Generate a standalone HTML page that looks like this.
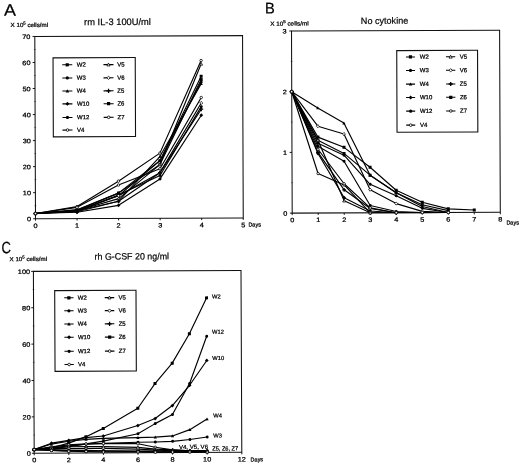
<!DOCTYPE html>
<html><head><meta charset="utf-8"><title>Figure</title>
<style>
html,body{margin:0;padding:0;background:#fff;}
body{width:520px;height:464px;overflow:hidden;}
svg{display:block;font-family:"Liberation Sans", sans-serif;fill:#000;filter:blur(0.35px);}
</style></head><body>
<svg width="520" height="464" viewBox="0 0 520 464">
<rect width="520" height="464" fill="#fff"/>
<g transform="rotate(-0.22 139 127.3)">
<text x="4.50" y="15.30" font-size="16.5" text-anchor="start" font-weight="normal" textLength="12" lengthAdjust="spacingAndGlyphs" stroke="#000" stroke-width="0.2">A</text>
<text x="11.00" y="26.60" font-size="5.9" text-anchor="start" font-weight="normal" textLength="37.5" lengthAdjust="spacingAndGlyphs" stroke="#000" stroke-width="0.24">X 10<tspan dy="-2.6" font-size="4.1">5</tspan><tspan dy="2.6"> cells/ml</tspan></text>
<text x="84.50" y="25.00" font-size="9.4" text-anchor="start" font-weight="normal" textLength="66.8" lengthAdjust="spacingAndGlyphs" stroke="#000" stroke-width="0.2">rm IL-3 100U/ml</text>
<rect x="35.15" y="36.05" width="207.75" height="182.25" fill="#fff" stroke="#111" stroke-width="1.05"/>
<path d="M32.85,218.30 L35.15,218.30" stroke="#000" stroke-width="0.9"/>
<text x="30.80" y="220.90" font-size="6.4" text-anchor="end" font-weight="normal" textLength="4.1" lengthAdjust="spacingAndGlyphs" stroke="#000" stroke-width="0.24">0</text>
<path d="M32.85,192.26 L35.15,192.26" stroke="#000" stroke-width="0.9"/>
<text x="30.80" y="194.86" font-size="6.4" text-anchor="end" font-weight="normal" textLength="8.2" lengthAdjust="spacingAndGlyphs" stroke="#000" stroke-width="0.24">10</text>
<path d="M32.85,166.23 L35.15,166.23" stroke="#000" stroke-width="0.9"/>
<text x="30.80" y="168.83" font-size="6.4" text-anchor="end" font-weight="normal" textLength="8.2" lengthAdjust="spacingAndGlyphs" stroke="#000" stroke-width="0.24">20</text>
<path d="M32.85,140.19 L35.15,140.19" stroke="#000" stroke-width="0.9"/>
<text x="30.80" y="142.79" font-size="6.4" text-anchor="end" font-weight="normal" textLength="8.2" lengthAdjust="spacingAndGlyphs" stroke="#000" stroke-width="0.24">30</text>
<path d="M32.85,114.16 L35.15,114.16" stroke="#000" stroke-width="0.9"/>
<text x="30.80" y="116.76" font-size="6.4" text-anchor="end" font-weight="normal" textLength="8.2" lengthAdjust="spacingAndGlyphs" stroke="#000" stroke-width="0.24">40</text>
<path d="M32.85,88.12 L35.15,88.12" stroke="#000" stroke-width="0.9"/>
<text x="30.80" y="90.72" font-size="6.4" text-anchor="end" font-weight="normal" textLength="8.2" lengthAdjust="spacingAndGlyphs" stroke="#000" stroke-width="0.24">50</text>
<path d="M32.85,62.09 L35.15,62.09" stroke="#000" stroke-width="0.9"/>
<text x="30.80" y="64.69" font-size="6.4" text-anchor="end" font-weight="normal" textLength="8.2" lengthAdjust="spacingAndGlyphs" stroke="#000" stroke-width="0.24">60</text>
<path d="M32.85,36.05 L35.15,36.05" stroke="#000" stroke-width="0.9"/>
<text x="30.80" y="38.65" font-size="6.4" text-anchor="end" font-weight="normal" textLength="8.2" lengthAdjust="spacingAndGlyphs" stroke="#000" stroke-width="0.24">70</text>
<path d="M34.15,205.28 L36.15,205.28" stroke="#000" stroke-width="0.6" opacity="0.6"/>
<path d="M34.15,179.25 L36.15,179.25" stroke="#000" stroke-width="0.6" opacity="0.6"/>
<path d="M34.15,153.21 L36.15,153.21" stroke="#000" stroke-width="0.6" opacity="0.6"/>
<path d="M34.15,127.18 L36.15,127.18" stroke="#000" stroke-width="0.6" opacity="0.6"/>
<path d="M34.15,101.14 L36.15,101.14" stroke="#000" stroke-width="0.6" opacity="0.6"/>
<path d="M34.15,75.10 L36.15,75.10" stroke="#000" stroke-width="0.6" opacity="0.6"/>
<path d="M34.15,49.07 L36.15,49.07" stroke="#000" stroke-width="0.6" opacity="0.6"/>
<path d="M35.15,218.30 L35.15,220.30" stroke="#000" stroke-width="0.9"/>
<text x="35.15" y="227.60" font-size="6.4" text-anchor="middle" font-weight="normal" textLength="4.1" lengthAdjust="spacingAndGlyphs" stroke="#000" stroke-width="0.24">0</text>
<path d="M76.70,218.30 L76.70,220.30" stroke="#000" stroke-width="0.9"/>
<text x="76.70" y="227.60" font-size="6.4" text-anchor="middle" font-weight="normal" textLength="4.1" lengthAdjust="spacingAndGlyphs" stroke="#000" stroke-width="0.24">1</text>
<path d="M118.25,218.30 L118.25,220.30" stroke="#000" stroke-width="0.9"/>
<text x="118.25" y="227.60" font-size="6.4" text-anchor="middle" font-weight="normal" textLength="4.1" lengthAdjust="spacingAndGlyphs" stroke="#000" stroke-width="0.24">2</text>
<path d="M159.80,218.30 L159.80,220.30" stroke="#000" stroke-width="0.9"/>
<text x="159.80" y="227.60" font-size="6.4" text-anchor="middle" font-weight="normal" textLength="4.1" lengthAdjust="spacingAndGlyphs" stroke="#000" stroke-width="0.24">3</text>
<path d="M201.35,218.30 L201.35,220.30" stroke="#000" stroke-width="0.9"/>
<text x="201.35" y="227.60" font-size="6.4" text-anchor="middle" font-weight="normal" textLength="4.1" lengthAdjust="spacingAndGlyphs" stroke="#000" stroke-width="0.24">4</text>
<path d="M242.90,218.30 L242.90,220.30" stroke="#000" stroke-width="0.9"/>
<text x="242.90" y="227.60" font-size="6.4" text-anchor="middle" font-weight="normal" textLength="4.1" lengthAdjust="spacingAndGlyphs" stroke="#000" stroke-width="0.24">5</text>
<text x="248.00" y="226.90" font-size="5.7" text-anchor="start" font-weight="normal" textLength="12.5" lengthAdjust="spacingAndGlyphs" stroke="#000" stroke-width="0.24">Days</text>
<path d="M35.15,213.09 L76.70,209.97 L118.25,193.05 L159.80,164.67 L201.35,79.79" stroke="#000" stroke-width="1.15" fill="none" stroke-linejoin="round"/>
<path d="M35.15,213.09 L76.70,211.01 L118.25,194.87 L159.80,175.60 L201.35,106.87" stroke="#000" stroke-width="1.15" fill="none" stroke-linejoin="round"/>
<path d="M35.15,213.09 L76.70,210.49 L118.25,201.12 L159.80,156.60 L201.35,83.96" stroke="#000" stroke-width="1.15" fill="none" stroke-linejoin="round"/>
<path d="M35.15,213.09 L76.70,212.05 L118.25,205.28 L159.80,178.99 L201.35,115.46" stroke="#000" stroke-width="1.15" fill="none" stroke-linejoin="round"/>
<path d="M35.15,213.09 L76.70,210.23 L118.25,195.65 L159.80,160.76 L201.35,82.13" stroke="#000" stroke-width="1.15" fill="none" stroke-linejoin="round"/>
<path d="M35.15,213.09 L76.70,206.32 L118.25,181.07 L159.80,153.21 L201.35,60.78" stroke="#000" stroke-width="1.15" fill="none" stroke-linejoin="round"/>
<path d="M35.15,213.09 L76.70,210.49 L118.25,198.51 L159.80,164.67 L201.35,64.17" stroke="#000" stroke-width="1.15" fill="none" stroke-linejoin="round"/>
<path d="M35.15,213.09 L76.70,210.75 L118.25,195.65 L159.80,172.74 L201.35,103.22" stroke="#000" stroke-width="1.15" fill="none" stroke-linejoin="round"/>
<path d="M35.15,213.09 L76.70,211.53 L118.25,201.12 L159.80,172.74 L201.35,109.47" stroke="#000" stroke-width="1.15" fill="none" stroke-linejoin="round"/>
<path d="M35.15,213.09 L76.70,209.45 L118.25,193.05 L159.80,160.76 L201.35,76.41" stroke="#000" stroke-width="1.15" fill="none" stroke-linejoin="round"/>
<path d="M35.15,213.09 L76.70,207.10 L118.25,184.97 L159.80,168.83 L201.35,97.75" stroke="#000" stroke-width="1.15" fill="none" stroke-linejoin="round"/>
<rect x="33.65" y="211.59" width="3.00" height="3.00" fill="#000"/>
<rect x="75.20" y="208.47" width="3.00" height="3.00" fill="#000"/>
<rect x="116.75" y="191.55" width="3.00" height="3.00" fill="#000"/>
<rect x="158.30" y="163.17" width="3.00" height="3.00" fill="#000"/>
<rect x="199.85" y="78.29" width="3.00" height="3.00" fill="#000"/>
<circle cx="35.15" cy="213.09" r="1.50" fill="#000"/>
<circle cx="76.70" cy="211.01" r="1.50" fill="#000"/>
<circle cx="118.25" cy="194.87" r="1.50" fill="#000"/>
<circle cx="159.80" cy="175.60" r="1.50" fill="#000"/>
<circle cx="201.35" cy="106.87" r="1.50" fill="#000"/>
<path d="M35.15,211.44 L36.80,214.44 L33.50,214.44Z" fill="#000"/>
<path d="M76.70,208.84 L78.35,211.84 L75.05,211.84Z" fill="#000"/>
<path d="M118.25,199.47 L119.90,202.47 L116.60,202.47Z" fill="#000"/>
<path d="M159.80,154.95 L161.45,157.95 L158.15,157.95Z" fill="#000"/>
<path d="M201.35,82.31 L203.00,85.31 L199.70,85.31Z" fill="#000"/>
<path d="M35.15,211.22 L37.02,213.09 L35.15,214.97 L33.27,213.09Z" fill="#000"/>
<path d="M76.70,210.18 L78.57,212.05 L76.70,213.93 L74.82,212.05Z" fill="#000"/>
<path d="M118.25,203.41 L120.12,205.28 L118.25,207.16 L116.38,205.28Z" fill="#000"/>
<path d="M159.80,177.11 L161.67,178.99 L159.80,180.86 L157.92,178.99Z" fill="#000"/>
<path d="M201.35,113.58 L203.22,115.46 L201.35,117.33 L199.47,115.46Z" fill="#000"/>
<circle cx="35.15" cy="213.09" r="1.50" fill="#000"/>
<circle cx="76.70" cy="210.23" r="1.50" fill="#000"/>
<circle cx="118.25" cy="195.65" r="1.50" fill="#000"/>
<circle cx="159.80" cy="160.76" r="1.50" fill="#000"/>
<circle cx="201.35" cy="82.13" r="1.50" fill="#000"/>
<circle cx="35.15" cy="213.09" r="1.23" fill="#fff" stroke="#000" stroke-width="0.8"/>
<circle cx="76.70" cy="206.32" r="1.23" fill="#fff" stroke="#000" stroke-width="0.8"/>
<circle cx="118.25" cy="181.07" r="1.23" fill="#fff" stroke="#000" stroke-width="0.8"/>
<circle cx="159.80" cy="153.21" r="1.23" fill="#fff" stroke="#000" stroke-width="0.8"/>
<circle cx="201.35" cy="60.78" r="1.23" fill="#fff" stroke="#000" stroke-width="0.8"/>
<path d="M35.15,211.62 L36.63,214.32 L33.67,214.32Z" fill="#fff" stroke="#000" stroke-width="0.8"/>
<path d="M76.70,209.01 L78.18,211.72 L75.22,211.72Z" fill="#fff" stroke="#000" stroke-width="0.8"/>
<path d="M118.25,197.04 L119.73,199.74 L116.77,199.74Z" fill="#fff" stroke="#000" stroke-width="0.8"/>
<path d="M159.80,163.19 L161.28,165.90 L158.32,165.90Z" fill="#fff" stroke="#000" stroke-width="0.8"/>
<path d="M201.35,62.69 L202.83,65.40 L199.87,65.40Z" fill="#fff" stroke="#000" stroke-width="0.8"/>
<path d="M35.15,211.56 L36.69,213.09 L35.15,214.63 L33.61,213.09Z" fill="#fff" stroke="#000" stroke-width="0.8"/>
<path d="M76.70,209.21 L78.24,210.75 L76.70,212.29 L75.16,210.75Z" fill="#fff" stroke="#000" stroke-width="0.8"/>
<path d="M118.25,194.11 L119.79,195.65 L118.25,197.19 L116.71,195.65Z" fill="#fff" stroke="#000" stroke-width="0.8"/>
<path d="M159.80,171.20 L161.34,172.74 L159.80,174.28 L158.26,172.74Z" fill="#fff" stroke="#000" stroke-width="0.8"/>
<path d="M201.35,101.68 L202.89,103.22 L201.35,104.76 L199.81,103.22Z" fill="#fff" stroke="#000" stroke-width="0.8"/>
<path d="M33.20,213.09 L37.10,213.09 M35.15,211.14 L35.15,215.04" stroke="#000" stroke-width="1.3" fill="none"/>
<path d="M74.75,211.53 L78.65,211.53 M76.70,209.58 L76.70,213.48" stroke="#000" stroke-width="1.3" fill="none"/>
<path d="M116.30,201.12 L120.20,201.12 M118.25,199.17 L118.25,203.07" stroke="#000" stroke-width="1.3" fill="none"/>
<path d="M157.85,172.74 L161.75,172.74 M159.80,170.79 L159.80,174.69" stroke="#000" stroke-width="1.3" fill="none"/>
<path d="M199.40,109.47 L203.30,109.47 M201.35,107.52 L201.35,111.42" stroke="#000" stroke-width="1.3" fill="none"/>
<rect x="33.65" y="211.59" width="3.00" height="3.00" fill="#000"/>
<rect x="75.20" y="207.95" width="3.00" height="3.00" fill="#000"/>
<rect x="116.75" y="191.55" width="3.00" height="3.00" fill="#000"/>
<rect x="158.30" y="159.26" width="3.00" height="3.00" fill="#000"/>
<rect x="199.85" y="74.91" width="3.00" height="3.00" fill="#000"/>
<circle cx="35.15" cy="213.09" r="1.23" fill="#fff" stroke="#000" stroke-width="0.8"/>
<circle cx="76.70" cy="207.10" r="1.23" fill="#fff" stroke="#000" stroke-width="0.8"/>
<circle cx="118.25" cy="184.97" r="1.23" fill="#fff" stroke="#000" stroke-width="0.8"/>
<circle cx="159.80" cy="168.83" r="1.23" fill="#fff" stroke="#000" stroke-width="0.8"/>
<circle cx="201.35" cy="97.75" r="1.23" fill="#fff" stroke="#000" stroke-width="0.8"/>
<rect x="53.3" y="57.5" width="82.2" height="79.0" fill="#fff" stroke="#111" stroke-width="1.1"/>
<path d="M62.5,64.5 L72.5,64.5" stroke="#000" stroke-width="1.1"/>
<rect x="65.90" y="62.90" width="3.20" height="3.20" fill="#000"/>
<text x="77.00" y="66.40" font-size="6.0" text-anchor="start" font-weight="normal" stroke="#000" stroke-width="0.24">W2</text>
<path d="M62.5,77.7 L72.5,77.7" stroke="#000" stroke-width="1.1"/>
<circle cx="67.50" cy="77.70" r="1.60" fill="#000"/>
<text x="77.00" y="79.60" font-size="6.0" text-anchor="start" font-weight="normal" stroke="#000" stroke-width="0.24">W3</text>
<path d="M62.5,90.7 L72.5,90.7" stroke="#000" stroke-width="1.1"/>
<path d="M67.50,88.94 L69.26,92.14 L65.74,92.14Z" fill="#000"/>
<text x="77.00" y="92.60" font-size="6.0" text-anchor="start" font-weight="normal" stroke="#000" stroke-width="0.24">W4</text>
<path d="M62.5,103.6 L72.5,103.6" stroke="#000" stroke-width="1.1"/>
<path d="M67.50,101.60 L69.50,103.60 L67.50,105.60 L65.50,103.60Z" fill="#000"/>
<text x="77.00" y="105.50" font-size="6.0" text-anchor="start" font-weight="normal" stroke="#000" stroke-width="0.24">W10</text>
<path d="M62.5,117.2 L72.5,117.2" stroke="#000" stroke-width="1.1"/>
<circle cx="67.50" cy="117.20" r="1.60" fill="#000"/>
<text x="77.00" y="119.10" font-size="6.0" text-anchor="start" font-weight="normal" stroke="#000" stroke-width="0.24">W12</text>
<path d="M62.5,129.8 L72.5,129.8" stroke="#000" stroke-width="1.1"/>
<circle cx="67.50" cy="129.80" r="1.31" fill="#fff" stroke="#000" stroke-width="0.8"/>
<text x="77.00" y="131.70" font-size="6.0" text-anchor="start" font-weight="normal" stroke="#000" stroke-width="0.24">V4</text>
<path d="M103.7,64.5 L113.7,64.5" stroke="#000" stroke-width="1.1"/>
<path d="M108.70,62.93 L110.27,65.81 L107.13,65.81Z" fill="#fff" stroke="#000" stroke-width="0.8"/>
<text x="117.50" y="66.40" font-size="6.0" text-anchor="start" font-weight="normal" stroke="#000" stroke-width="0.24">V5</text>
<path d="M103.7,77.7 L113.7,77.7" stroke="#000" stroke-width="1.1"/>
<path d="M108.70,76.06 L110.34,77.70 L108.70,79.34 L107.06,77.70Z" fill="#fff" stroke="#000" stroke-width="0.8"/>
<text x="117.50" y="79.60" font-size="6.0" text-anchor="start" font-weight="normal" stroke="#000" stroke-width="0.24">V6</text>
<path d="M103.7,90.7 L113.7,90.7" stroke="#000" stroke-width="1.1"/>
<path d="M106.62,90.70 L110.78,90.70 M108.70,88.62 L108.70,92.78" stroke="#000" stroke-width="1.3" fill="none"/>
<text x="117.50" y="92.60" font-size="6.0" text-anchor="start" font-weight="normal" stroke="#000" stroke-width="0.24">Z5</text>
<path d="M103.7,103.6 L113.7,103.6" stroke="#000" stroke-width="1.1"/>
<rect x="107.10" y="102.00" width="3.20" height="3.20" fill="#000"/>
<text x="117.50" y="105.50" font-size="6.0" text-anchor="start" font-weight="normal" stroke="#000" stroke-width="0.24">Z6</text>
<path d="M103.7,117.2 L113.7,117.2" stroke="#000" stroke-width="1.1"/>
<circle cx="108.70" cy="117.20" r="1.31" fill="#fff" stroke="#000" stroke-width="0.8"/>
<text x="117.50" y="119.10" font-size="6.0" text-anchor="start" font-weight="normal" stroke="#000" stroke-width="0.24">Z7</text>
</g>
<g transform="rotate(-0.22 395.9 121.65)">
<text x="265.30" y="13.10" font-size="15.5" text-anchor="start" font-weight="normal" textLength="9.8" lengthAdjust="spacingAndGlyphs" stroke="#000" stroke-width="0.2">B</text>
<text x="270.50" y="25.20" font-size="5.9" text-anchor="start" font-weight="normal" textLength="38.5" lengthAdjust="spacingAndGlyphs" stroke="#000" stroke-width="0.24">X 10<tspan dy="-2.6" font-size="4.1">5</tspan><tspan dy="2.6"> cells/ml</tspan></text>
<text x="361.20" y="23.80" font-size="9.2" text-anchor="start" font-weight="normal" textLength="47.5" lengthAdjust="spacingAndGlyphs" stroke="#000" stroke-width="0.2">No cytokine</text>
<rect x="291.85" y="30.6" width="208.09999999999997" height="182.1" fill="#fff" stroke="#111" stroke-width="1.05"/>
<path d="M289.55,212.70 L291.85,212.70" stroke="#000" stroke-width="0.9"/>
<text x="287.00" y="215.30" font-size="6.4" text-anchor="end" font-weight="normal" textLength="4.1" lengthAdjust="spacingAndGlyphs" stroke="#000" stroke-width="0.24">0</text>
<path d="M289.55,152.00 L291.85,152.00" stroke="#000" stroke-width="0.9"/>
<text x="287.00" y="154.60" font-size="6.4" text-anchor="end" font-weight="normal" textLength="4.1" lengthAdjust="spacingAndGlyphs" stroke="#000" stroke-width="0.24">1</text>
<path d="M289.55,91.30 L291.85,91.30" stroke="#000" stroke-width="0.9"/>
<text x="287.00" y="93.90" font-size="6.4" text-anchor="end" font-weight="normal" textLength="4.1" lengthAdjust="spacingAndGlyphs" stroke="#000" stroke-width="0.24">2</text>
<path d="M289.55,30.60 L291.85,30.60" stroke="#000" stroke-width="0.9"/>
<text x="287.00" y="33.20" font-size="6.4" text-anchor="end" font-weight="normal" textLength="4.1" lengthAdjust="spacingAndGlyphs" stroke="#000" stroke-width="0.24">3</text>
<path d="M290.85,182.35 L292.85,182.35" stroke="#000" stroke-width="0.6" opacity="0.6"/>
<path d="M290.85,121.65 L292.85,121.65" stroke="#000" stroke-width="0.6" opacity="0.6"/>
<path d="M290.85,60.95 L292.85,60.95" stroke="#000" stroke-width="0.6" opacity="0.6"/>
<path d="M291.85,212.70 L291.85,214.70" stroke="#000" stroke-width="0.9"/>
<text x="291.85" y="221.80" font-size="6.4" text-anchor="middle" font-weight="normal" textLength="4.1" lengthAdjust="spacingAndGlyphs" stroke="#000" stroke-width="0.24">0</text>
<path d="M317.86,212.70 L317.86,214.70" stroke="#000" stroke-width="0.9"/>
<text x="317.86" y="221.80" font-size="6.4" text-anchor="middle" font-weight="normal" textLength="4.1" lengthAdjust="spacingAndGlyphs" stroke="#000" stroke-width="0.24">1</text>
<path d="M343.88,212.70 L343.88,214.70" stroke="#000" stroke-width="0.9"/>
<text x="343.88" y="221.80" font-size="6.4" text-anchor="middle" font-weight="normal" textLength="4.1" lengthAdjust="spacingAndGlyphs" stroke="#000" stroke-width="0.24">2</text>
<path d="M369.89,212.70 L369.89,214.70" stroke="#000" stroke-width="0.9"/>
<text x="369.89" y="221.80" font-size="6.4" text-anchor="middle" font-weight="normal" textLength="4.1" lengthAdjust="spacingAndGlyphs" stroke="#000" stroke-width="0.24">3</text>
<path d="M395.90,212.70 L395.90,214.70" stroke="#000" stroke-width="0.9"/>
<text x="395.90" y="221.80" font-size="6.4" text-anchor="middle" font-weight="normal" textLength="4.1" lengthAdjust="spacingAndGlyphs" stroke="#000" stroke-width="0.24">4</text>
<path d="M421.91,212.70 L421.91,214.70" stroke="#000" stroke-width="0.9"/>
<text x="421.91" y="221.80" font-size="6.4" text-anchor="middle" font-weight="normal" textLength="4.1" lengthAdjust="spacingAndGlyphs" stroke="#000" stroke-width="0.24">5</text>
<path d="M447.93,212.70 L447.93,214.70" stroke="#000" stroke-width="0.9"/>
<text x="447.93" y="221.80" font-size="6.4" text-anchor="middle" font-weight="normal" textLength="4.1" lengthAdjust="spacingAndGlyphs" stroke="#000" stroke-width="0.24">6</text>
<path d="M473.94,212.70 L473.94,214.70" stroke="#000" stroke-width="0.9"/>
<text x="473.94" y="221.80" font-size="6.4" text-anchor="middle" font-weight="normal" textLength="4.1" lengthAdjust="spacingAndGlyphs" stroke="#000" stroke-width="0.24">7</text>
<path d="M499.95,212.70 L499.95,214.70" stroke="#000" stroke-width="0.9"/>
<text x="499.95" y="221.80" font-size="6.4" text-anchor="middle" font-weight="normal" textLength="4.1" lengthAdjust="spacingAndGlyphs" stroke="#000" stroke-width="0.24">8</text>
<text x="506.00" y="225.00" font-size="5.7" text-anchor="start" font-weight="normal" textLength="12.5" lengthAdjust="spacingAndGlyphs" stroke="#000" stroke-width="0.24">Days</text>
<path d="M291.85,91.30 L317.86,139.86 L343.88,153.21 L369.89,175.07 L395.90,192.67 L421.91,204.81 L447.93,210.88" stroke="#000" stroke-width="1.15" fill="none" stroke-linejoin="round"/>
<path d="M291.85,91.30 L317.86,145.93 L343.88,161.10 L369.89,205.42 L395.90,211.49 L421.91,212.70" stroke="#000" stroke-width="1.15" fill="none" stroke-linejoin="round"/>
<path d="M291.85,91.30 L317.86,107.69 L343.88,122.86 L369.89,175.07 L395.90,192.67 L421.91,206.63 L447.93,212.70" stroke="#000" stroke-width="1.15" fill="none" stroke-linejoin="round"/>
<path d="M291.85,91.30 L317.86,153.21 L343.88,197.52 L369.89,210.88 L395.90,212.70" stroke="#000" stroke-width="1.15" fill="none" stroke-linejoin="round"/>
<path d="M291.85,91.30 L317.86,142.89 L343.88,155.03 L369.89,184.17 L395.90,195.70 L421.91,208.45 L447.93,212.70" stroke="#000" stroke-width="1.15" fill="none" stroke-linejoin="round"/>
<path d="M291.85,91.30 L317.86,173.25 L343.88,184.78 L369.89,212.70 L395.90,212.70" stroke="#000" stroke-width="1.15" fill="none" stroke-linejoin="round"/>
<path d="M291.85,91.30 L317.86,139.86 L343.88,200.56 L369.89,212.70" stroke="#000" stroke-width="1.15" fill="none" stroke-linejoin="round"/>
<path d="M291.85,91.30 L317.86,125.90 L343.88,133.79 L369.89,189.63 L395.90,203.59 L421.91,211.49 L447.93,212.70" stroke="#000" stroke-width="1.15" fill="none" stroke-linejoin="round"/>
<path d="M291.85,91.30 L317.86,152.00 L343.88,189.63 L369.89,208.45 L395.90,212.70" stroke="#000" stroke-width="1.15" fill="none" stroke-linejoin="round"/>
<path d="M291.85,91.30 L317.86,136.82 L343.88,147.14 L369.89,167.17 L395.90,190.24 L421.91,202.38 L447.93,209.06 L473.94,210.27" stroke="#000" stroke-width="1.15" fill="none" stroke-linejoin="round"/>
<path d="M291.85,91.30 L317.86,148.96 L343.88,183.56 L369.89,207.84 L395.90,212.70 L421.91,212.70 L447.93,212.70" stroke="#000" stroke-width="1.15" fill="none" stroke-linejoin="round"/>
<rect x="290.35" y="89.80" width="3.00" height="3.00" fill="#000"/>
<rect x="316.36" y="138.36" width="3.00" height="3.00" fill="#000"/>
<rect x="342.38" y="151.71" width="3.00" height="3.00" fill="#000"/>
<rect x="368.39" y="173.57" width="3.00" height="3.00" fill="#000"/>
<rect x="394.40" y="191.17" width="3.00" height="3.00" fill="#000"/>
<rect x="420.41" y="203.31" width="3.00" height="3.00" fill="#000"/>
<rect x="446.43" y="209.38" width="3.00" height="3.00" fill="#000"/>
<circle cx="291.85" cy="91.30" r="1.50" fill="#000"/>
<circle cx="317.86" cy="145.93" r="1.50" fill="#000"/>
<circle cx="343.88" cy="161.10" r="1.50" fill="#000"/>
<circle cx="369.89" cy="205.42" r="1.50" fill="#000"/>
<circle cx="395.90" cy="211.49" r="1.50" fill="#000"/>
<circle cx="421.91" cy="212.70" r="1.50" fill="#000"/>
<path d="M291.85,89.65 L293.50,92.65 L290.20,92.65Z" fill="#000"/>
<path d="M317.86,106.04 L319.51,109.04 L316.21,109.04Z" fill="#000"/>
<path d="M343.88,121.21 L345.52,124.21 L342.23,124.21Z" fill="#000"/>
<path d="M369.89,173.42 L371.54,176.42 L368.24,176.42Z" fill="#000"/>
<path d="M395.90,191.02 L397.55,194.02 L394.25,194.02Z" fill="#000"/>
<path d="M421.91,204.98 L423.56,207.98 L420.26,207.98Z" fill="#000"/>
<path d="M447.93,211.05 L449.57,214.05 L446.28,214.05Z" fill="#000"/>
<path d="M291.85,89.42 L293.73,91.30 L291.85,93.17 L289.98,91.30Z" fill="#000"/>
<path d="M317.86,151.34 L319.74,153.21 L317.86,155.09 L315.99,153.21Z" fill="#000"/>
<path d="M343.88,195.65 L345.75,197.52 L343.88,199.40 L342.00,197.52Z" fill="#000"/>
<path d="M369.89,209.00 L371.76,210.88 L369.89,212.75 L368.01,210.88Z" fill="#000"/>
<path d="M395.90,210.82 L397.77,212.70 L395.90,214.57 L394.02,212.70Z" fill="#000"/>
<circle cx="291.85" cy="91.30" r="1.50" fill="#000"/>
<circle cx="317.86" cy="142.89" r="1.50" fill="#000"/>
<circle cx="343.88" cy="155.03" r="1.50" fill="#000"/>
<circle cx="369.89" cy="184.17" r="1.50" fill="#000"/>
<circle cx="395.90" cy="195.70" r="1.50" fill="#000"/>
<circle cx="421.91" cy="208.45" r="1.50" fill="#000"/>
<circle cx="447.93" cy="212.70" r="1.50" fill="#000"/>
<circle cx="291.85" cy="91.30" r="1.23" fill="#fff" stroke="#000" stroke-width="0.8"/>
<circle cx="317.86" cy="173.25" r="1.23" fill="#fff" stroke="#000" stroke-width="0.8"/>
<circle cx="343.88" cy="184.78" r="1.23" fill="#fff" stroke="#000" stroke-width="0.8"/>
<circle cx="369.89" cy="212.70" r="1.23" fill="#fff" stroke="#000" stroke-width="0.8"/>
<circle cx="395.90" cy="212.70" r="1.23" fill="#fff" stroke="#000" stroke-width="0.8"/>
<path d="M291.85,89.82 L293.33,92.53 L290.37,92.53Z" fill="#fff" stroke="#000" stroke-width="0.8"/>
<path d="M317.86,138.38 L319.34,141.09 L316.39,141.09Z" fill="#fff" stroke="#000" stroke-width="0.8"/>
<path d="M343.88,199.08 L345.35,201.79 L342.40,201.79Z" fill="#fff" stroke="#000" stroke-width="0.8"/>
<path d="M369.89,211.22 L371.36,213.93 L368.41,213.93Z" fill="#fff" stroke="#000" stroke-width="0.8"/>
<path d="M291.85,89.76 L293.39,91.30 L291.85,92.84 L290.31,91.30Z" fill="#fff" stroke="#000" stroke-width="0.8"/>
<path d="M317.86,124.36 L319.40,125.90 L317.86,127.44 L316.32,125.90Z" fill="#fff" stroke="#000" stroke-width="0.8"/>
<path d="M343.88,132.25 L345.41,133.79 L343.88,135.33 L342.34,133.79Z" fill="#fff" stroke="#000" stroke-width="0.8"/>
<path d="M369.89,188.10 L371.43,189.63 L369.89,191.17 L368.35,189.63Z" fill="#fff" stroke="#000" stroke-width="0.8"/>
<path d="M395.90,202.06 L397.44,203.59 L395.90,205.13 L394.36,203.59Z" fill="#fff" stroke="#000" stroke-width="0.8"/>
<path d="M421.91,209.95 L423.45,211.49 L421.91,213.02 L420.38,211.49Z" fill="#fff" stroke="#000" stroke-width="0.8"/>
<path d="M447.93,211.16 L449.46,212.70 L447.93,214.24 L446.39,212.70Z" fill="#fff" stroke="#000" stroke-width="0.8"/>
<path d="M289.90,91.30 L293.80,91.30 M291.85,89.35 L291.85,93.25" stroke="#000" stroke-width="1.3" fill="none"/>
<path d="M315.91,152.00 L319.81,152.00 M317.86,150.05 L317.86,153.95" stroke="#000" stroke-width="1.3" fill="none"/>
<path d="M341.93,189.63 L345.82,189.63 M343.88,187.68 L343.88,191.58" stroke="#000" stroke-width="1.3" fill="none"/>
<path d="M367.94,208.45 L371.84,208.45 M369.89,206.50 L369.89,210.40" stroke="#000" stroke-width="1.3" fill="none"/>
<path d="M393.95,212.70 L397.85,212.70 M395.90,210.75 L395.90,214.65" stroke="#000" stroke-width="1.3" fill="none"/>
<rect x="290.35" y="89.80" width="3.00" height="3.00" fill="#000"/>
<rect x="316.36" y="135.32" width="3.00" height="3.00" fill="#000"/>
<rect x="342.38" y="145.64" width="3.00" height="3.00" fill="#000"/>
<rect x="368.39" y="165.67" width="3.00" height="3.00" fill="#000"/>
<rect x="394.40" y="188.74" width="3.00" height="3.00" fill="#000"/>
<rect x="420.41" y="200.88" width="3.00" height="3.00" fill="#000"/>
<rect x="446.43" y="207.56" width="3.00" height="3.00" fill="#000"/>
<rect x="472.44" y="208.77" width="3.00" height="3.00" fill="#000"/>
<circle cx="291.85" cy="91.30" r="1.23" fill="#fff" stroke="#000" stroke-width="0.8"/>
<circle cx="317.86" cy="148.96" r="1.23" fill="#fff" stroke="#000" stroke-width="0.8"/>
<circle cx="343.88" cy="183.56" r="1.23" fill="#fff" stroke="#000" stroke-width="0.8"/>
<circle cx="369.89" cy="207.84" r="1.23" fill="#fff" stroke="#000" stroke-width="0.8"/>
<circle cx="395.90" cy="212.70" r="1.23" fill="#fff" stroke="#000" stroke-width="0.8"/>
<circle cx="421.91" cy="212.70" r="1.23" fill="#fff" stroke="#000" stroke-width="0.8"/>
<circle cx="447.93" cy="212.70" r="1.23" fill="#fff" stroke="#000" stroke-width="0.8"/>
<rect x="397.0" y="50.6" width="80.80000000000001" height="81.70000000000002" fill="#fff" stroke="#111" stroke-width="1.1"/>
<path d="M406.2,57 L415.2,57" stroke="#000" stroke-width="1.1"/>
<rect x="409.10" y="55.40" width="3.20" height="3.20" fill="#000"/>
<text x="420.00" y="58.90" font-size="6.0" text-anchor="start" font-weight="normal" stroke="#000" stroke-width="0.24">W2</text>
<path d="M406.2,70.5 L415.2,70.5" stroke="#000" stroke-width="1.1"/>
<circle cx="410.70" cy="70.50" r="1.60" fill="#000"/>
<text x="420.00" y="72.40" font-size="6.0" text-anchor="start" font-weight="normal" stroke="#000" stroke-width="0.24">W3</text>
<path d="M406.2,84.2 L415.2,84.2" stroke="#000" stroke-width="1.1"/>
<path d="M410.70,82.44 L412.46,85.64 L408.94,85.64Z" fill="#000"/>
<text x="420.00" y="86.10" font-size="6.0" text-anchor="start" font-weight="normal" stroke="#000" stroke-width="0.24">W4</text>
<path d="M406.2,97.5 L415.2,97.5" stroke="#000" stroke-width="1.1"/>
<path d="M410.70,95.50 L412.70,97.50 L410.70,99.50 L408.70,97.50Z" fill="#000"/>
<text x="420.00" y="99.40" font-size="6.0" text-anchor="start" font-weight="normal" stroke="#000" stroke-width="0.24">W10</text>
<path d="M406.2,111.2 L415.2,111.2" stroke="#000" stroke-width="1.1"/>
<circle cx="410.70" cy="111.20" r="1.60" fill="#000"/>
<text x="420.00" y="113.10" font-size="6.0" text-anchor="start" font-weight="normal" stroke="#000" stroke-width="0.24">W12</text>
<path d="M406.2,125.2 L415.2,125.2" stroke="#000" stroke-width="1.1"/>
<circle cx="410.70" cy="125.20" r="1.31" fill="#fff" stroke="#000" stroke-width="0.8"/>
<text x="420.00" y="127.10" font-size="6.0" text-anchor="start" font-weight="normal" stroke="#000" stroke-width="0.24">V4</text>
<path d="M446.2,57 L455.5,57" stroke="#000" stroke-width="1.1"/>
<path d="M450.85,55.43 L452.42,58.31 L449.28,58.31Z" fill="#fff" stroke="#000" stroke-width="0.8"/>
<text x="460.00" y="58.90" font-size="6.0" text-anchor="start" font-weight="normal" stroke="#000" stroke-width="0.24">V5</text>
<path d="M446.2,70.5 L455.5,70.5" stroke="#000" stroke-width="1.1"/>
<path d="M450.85,68.86 L452.49,70.50 L450.85,72.14 L449.21,70.50Z" fill="#fff" stroke="#000" stroke-width="0.8"/>
<text x="460.00" y="72.40" font-size="6.0" text-anchor="start" font-weight="normal" stroke="#000" stroke-width="0.24">V6</text>
<path d="M446.2,84.2 L455.5,84.2" stroke="#000" stroke-width="1.1"/>
<path d="M448.77,84.20 L452.93,84.20 M450.85,82.12 L450.85,86.28" stroke="#000" stroke-width="1.3" fill="none"/>
<text x="460.00" y="86.10" font-size="6.0" text-anchor="start" font-weight="normal" stroke="#000" stroke-width="0.24">Z5</text>
<path d="M446.2,97.5 L455.5,97.5" stroke="#000" stroke-width="1.1"/>
<rect x="449.25" y="95.90" width="3.20" height="3.20" fill="#000"/>
<text x="460.00" y="99.40" font-size="6.0" text-anchor="start" font-weight="normal" stroke="#000" stroke-width="0.24">Z6</text>
<path d="M446.2,111.2 L455.5,111.2" stroke="#000" stroke-width="1.1"/>
<circle cx="450.85" cy="111.20" r="1.31" fill="#fff" stroke="#000" stroke-width="0.8"/>
<text x="460.00" y="113.10" font-size="6.0" text-anchor="start" font-weight="normal" stroke="#000" stroke-width="0.24">Z7</text>
</g>
<g transform="rotate(-0.25 137.6 361.85)">
<text x="2.00" y="252.60" font-size="16.5" text-anchor="start" font-weight="normal" textLength="9.5" lengthAdjust="spacingAndGlyphs" stroke="#000" stroke-width="0.2">C</text>
<text x="10.00" y="260.60" font-size="5.9" text-anchor="start" font-weight="normal" textLength="37.5" lengthAdjust="spacingAndGlyphs" stroke="#000" stroke-width="0.24">X 10<tspan dy="-2.6" font-size="4.1">5</tspan><tspan dy="2.6"> cells/ml</tspan></text>
<text x="95.00" y="259.50" font-size="9.2" text-anchor="start" font-weight="normal" textLength="74.5" lengthAdjust="spacingAndGlyphs" stroke="#000" stroke-width="0.2">rh G-CSF 20 ng/ml</text>
<rect x="33.8" y="270.9" width="207.60000000000002" height="181.90000000000003" fill="#fff" stroke="#111" stroke-width="1.05"/>
<path d="M31.50,452.80 L33.80,452.80" stroke="#000" stroke-width="0.9"/>
<text x="30.50" y="455.40" font-size="6.4" text-anchor="end" font-weight="normal" textLength="4.1" lengthAdjust="spacingAndGlyphs" stroke="#000" stroke-width="0.24">0</text>
<path d="M31.50,416.42 L33.80,416.42" stroke="#000" stroke-width="0.9"/>
<text x="30.50" y="419.02" font-size="6.4" text-anchor="end" font-weight="normal" textLength="8.2" lengthAdjust="spacingAndGlyphs" stroke="#000" stroke-width="0.24">20</text>
<path d="M31.50,380.04 L33.80,380.04" stroke="#000" stroke-width="0.9"/>
<text x="30.50" y="382.64" font-size="6.4" text-anchor="end" font-weight="normal" textLength="8.2" lengthAdjust="spacingAndGlyphs" stroke="#000" stroke-width="0.24">40</text>
<path d="M31.50,343.66 L33.80,343.66" stroke="#000" stroke-width="0.9"/>
<text x="30.50" y="346.26" font-size="6.4" text-anchor="end" font-weight="normal" textLength="8.2" lengthAdjust="spacingAndGlyphs" stroke="#000" stroke-width="0.24">60</text>
<path d="M31.50,307.28 L33.80,307.28" stroke="#000" stroke-width="0.9"/>
<text x="30.50" y="309.88" font-size="6.4" text-anchor="end" font-weight="normal" textLength="8.2" lengthAdjust="spacingAndGlyphs" stroke="#000" stroke-width="0.24">80</text>
<path d="M31.50,270.90 L33.80,270.90" stroke="#000" stroke-width="0.9"/>
<text x="30.50" y="273.50" font-size="6.4" text-anchor="end" font-weight="normal" textLength="12.299999999999999" lengthAdjust="spacingAndGlyphs" stroke="#000" stroke-width="0.24">100</text>
<path d="M32.80,434.61 L34.80,434.61" stroke="#000" stroke-width="0.6" opacity="0.6"/>
<path d="M32.80,398.23 L34.80,398.23" stroke="#000" stroke-width="0.6" opacity="0.6"/>
<path d="M32.80,361.85 L34.80,361.85" stroke="#000" stroke-width="0.6" opacity="0.6"/>
<path d="M32.80,325.47 L34.80,325.47" stroke="#000" stroke-width="0.6" opacity="0.6"/>
<path d="M32.80,289.09 L34.80,289.09" stroke="#000" stroke-width="0.6" opacity="0.6"/>
<path d="M33.80,452.80 L33.80,454.80" stroke="#000" stroke-width="0.9"/>
<text x="33.80" y="461.90" font-size="6.4" text-anchor="middle" font-weight="normal" textLength="4.1" lengthAdjust="spacingAndGlyphs" stroke="#000" stroke-width="0.24">0</text>
<path d="M68.40,452.80 L68.40,454.80" stroke="#000" stroke-width="0.9"/>
<text x="68.40" y="461.90" font-size="6.4" text-anchor="middle" font-weight="normal" textLength="4.1" lengthAdjust="spacingAndGlyphs" stroke="#000" stroke-width="0.24">2</text>
<path d="M103.00,452.80 L103.00,454.80" stroke="#000" stroke-width="0.9"/>
<text x="103.00" y="461.90" font-size="6.4" text-anchor="middle" font-weight="normal" textLength="4.1" lengthAdjust="spacingAndGlyphs" stroke="#000" stroke-width="0.24">4</text>
<path d="M137.60,452.80 L137.60,454.80" stroke="#000" stroke-width="0.9"/>
<text x="137.60" y="461.90" font-size="6.4" text-anchor="middle" font-weight="normal" textLength="4.1" lengthAdjust="spacingAndGlyphs" stroke="#000" stroke-width="0.24">6</text>
<path d="M172.20,452.80 L172.20,454.80" stroke="#000" stroke-width="0.9"/>
<text x="172.20" y="461.90" font-size="6.4" text-anchor="middle" font-weight="normal" textLength="4.1" lengthAdjust="spacingAndGlyphs" stroke="#000" stroke-width="0.24">8</text>
<path d="M206.80,452.80 L206.80,454.80" stroke="#000" stroke-width="0.9"/>
<text x="206.80" y="461.90" font-size="6.4" text-anchor="middle" font-weight="normal" textLength="8.2" lengthAdjust="spacingAndGlyphs" stroke="#000" stroke-width="0.24">10</text>
<path d="M241.40,452.80 L241.40,454.80" stroke="#000" stroke-width="0.9"/>
<text x="241.40" y="461.90" font-size="6.4" text-anchor="middle" font-weight="normal" textLength="8.2" lengthAdjust="spacingAndGlyphs" stroke="#000" stroke-width="0.24">12</text>
<text x="250.20" y="461.90" font-size="5.7" text-anchor="start" font-weight="normal" textLength="12.5" lengthAdjust="spacingAndGlyphs" stroke="#000" stroke-width="0.24">Days</text>
<path d="M33.80,449.16 L51.10,447.34 L68.40,442.80 L85.70,436.43 L103.00,428.24 L137.60,408.23 L154.90,383.68 L172.20,363.31 L189.50,334.02 L206.80,298.18" stroke="#000" stroke-width="1.15" fill="none" stroke-linejoin="round"/>
<path d="M33.80,449.16 L51.10,447.34 L68.40,445.52 L85.70,444.07 L103.00,443.16 L137.60,442.25 L154.90,442.07 L172.20,441.52 L189.50,439.70 L206.80,437.34" stroke="#000" stroke-width="1.15" fill="none" stroke-linejoin="round"/>
<path d="M33.80,449.16 L51.10,443.70 L68.40,440.98 L85.70,439.16 L103.00,438.25 L137.60,437.70 L154.90,437.16 L172.20,436.07 L189.50,429.88 L206.80,419.33" stroke="#000" stroke-width="1.15" fill="none" stroke-linejoin="round"/>
<path d="M33.80,449.16 L51.10,442.80 L68.40,440.07 L85.70,437.34 L103.00,435.88 L137.60,425.51 L154.90,418.60 L172.20,405.69 L189.50,385.50 L206.80,360.76" stroke="#000" stroke-width="1.15" fill="none" stroke-linejoin="round"/>
<path d="M33.80,449.16 L51.10,448.25 L68.40,446.43 L85.70,443.70 L103.00,440.98 L137.60,433.70 L154.90,423.70 L172.20,414.60 L189.50,383.68 L206.80,336.57" stroke="#000" stroke-width="1.15" fill="none" stroke-linejoin="round"/>
<path d="M33.80,449.16 L51.10,446.43 L68.40,444.61 L85.70,443.70 L103.00,443.34 L137.60,443.70 L154.90,447.34 L172.20,450.07 L189.50,450.98 L206.80,450.98" stroke="#000" stroke-width="1.15" fill="none" stroke-linejoin="round"/>
<path d="M33.80,449.16 L51.10,447.34 L68.40,446.43 L85.70,446.43 L103.00,446.43 L137.60,447.34 L154.90,449.16 L172.20,450.07 L189.50,450.98 L206.80,451.34" stroke="#000" stroke-width="1.15" fill="none" stroke-linejoin="round"/>
<path d="M33.80,449.16 L51.10,448.25 L68.40,448.25 L85.70,448.25 L103.00,448.25 L137.60,449.16 L154.90,450.07 L172.20,450.98 L189.50,450.98 L206.80,451.34" stroke="#000" stroke-width="1.15" fill="none" stroke-linejoin="round"/>
<path d="M33.80,449.16 L51.10,449.16 L68.40,450.07 L85.70,450.07 L103.00,450.62 L137.60,450.98 L154.90,450.98 L172.20,451.34 L189.50,451.34 L206.80,451.89" stroke="#000" stroke-width="1.15" fill="none" stroke-linejoin="round"/>
<path d="M33.80,449.16 L51.10,450.07 L68.40,450.62 L85.70,450.98 L103.00,450.98 L137.60,451.34 L154.90,451.89 L172.20,451.89 L189.50,451.89 L206.80,452.25" stroke="#000" stroke-width="1.15" fill="none" stroke-linejoin="round"/>
<path d="M33.80,449.16 L51.10,450.07 L68.40,450.98 L85.70,451.34 L103.00,451.89 L137.60,451.89 L154.90,452.25 L172.20,452.25 L189.50,452.25 L206.80,452.44" stroke="#000" stroke-width="1.15" fill="none" stroke-linejoin="round"/>
<rect x="32.30" y="447.66" width="3.00" height="3.00" fill="#000"/>
<rect x="49.60" y="445.84" width="3.00" height="3.00" fill="#000"/>
<rect x="66.90" y="441.30" width="3.00" height="3.00" fill="#000"/>
<rect x="84.20" y="434.93" width="3.00" height="3.00" fill="#000"/>
<rect x="101.50" y="426.74" width="3.00" height="3.00" fill="#000"/>
<rect x="136.10" y="406.73" width="3.00" height="3.00" fill="#000"/>
<rect x="153.40" y="382.18" width="3.00" height="3.00" fill="#000"/>
<rect x="170.70" y="361.81" width="3.00" height="3.00" fill="#000"/>
<rect x="188.00" y="332.52" width="3.00" height="3.00" fill="#000"/>
<rect x="205.30" y="296.68" width="3.00" height="3.00" fill="#000"/>
<circle cx="33.80" cy="449.16" r="1.50" fill="#000"/>
<circle cx="51.10" cy="447.34" r="1.50" fill="#000"/>
<circle cx="68.40" cy="445.52" r="1.50" fill="#000"/>
<circle cx="85.70" cy="444.07" r="1.50" fill="#000"/>
<circle cx="103.00" cy="443.16" r="1.50" fill="#000"/>
<circle cx="137.60" cy="442.25" r="1.50" fill="#000"/>
<circle cx="154.90" cy="442.07" r="1.50" fill="#000"/>
<circle cx="172.20" cy="441.52" r="1.50" fill="#000"/>
<circle cx="189.50" cy="439.70" r="1.50" fill="#000"/>
<circle cx="206.80" cy="437.34" r="1.50" fill="#000"/>
<path d="M33.80,447.51 L35.45,450.51 L32.15,450.51Z" fill="#000"/>
<path d="M51.10,442.06 L52.75,445.06 L49.45,445.06Z" fill="#000"/>
<path d="M68.40,439.33 L70.05,442.33 L66.75,442.33Z" fill="#000"/>
<path d="M85.70,437.51 L87.35,440.51 L84.05,440.51Z" fill="#000"/>
<path d="M103.00,436.60 L104.65,439.60 L101.35,439.60Z" fill="#000"/>
<path d="M137.60,436.05 L139.25,439.05 L135.95,439.05Z" fill="#000"/>
<path d="M154.90,435.51 L156.55,438.51 L153.25,438.51Z" fill="#000"/>
<path d="M172.20,434.42 L173.85,437.42 L170.55,437.42Z" fill="#000"/>
<path d="M189.50,428.23 L191.15,431.23 L187.85,431.23Z" fill="#000"/>
<path d="M206.80,417.68 L208.45,420.68 L205.15,420.68Z" fill="#000"/>
<path d="M33.80,447.29 L35.67,449.16 L33.80,451.04 L31.92,449.16Z" fill="#000"/>
<path d="M51.10,440.92 L52.97,442.80 L51.10,444.67 L49.22,442.80Z" fill="#000"/>
<path d="M68.40,438.19 L70.28,440.07 L68.40,441.94 L66.53,440.07Z" fill="#000"/>
<path d="M85.70,435.46 L87.58,437.34 L85.70,439.21 L83.83,437.34Z" fill="#000"/>
<path d="M103.00,434.01 L104.88,435.88 L103.00,437.76 L101.12,435.88Z" fill="#000"/>
<path d="M137.60,423.64 L139.48,425.51 L137.60,427.39 L135.73,425.51Z" fill="#000"/>
<path d="M154.90,416.73 L156.78,418.60 L154.90,420.48 L153.03,418.60Z" fill="#000"/>
<path d="M172.20,403.81 L174.07,405.69 L172.20,407.56 L170.32,405.69Z" fill="#000"/>
<path d="M189.50,383.62 L191.38,385.50 L189.50,387.37 L187.62,385.50Z" fill="#000"/>
<path d="M206.80,358.88 L208.68,360.76 L206.80,362.63 L204.93,360.76Z" fill="#000"/>
<circle cx="33.80" cy="449.16" r="1.50" fill="#000"/>
<circle cx="51.10" cy="448.25" r="1.50" fill="#000"/>
<circle cx="68.40" cy="446.43" r="1.50" fill="#000"/>
<circle cx="85.70" cy="443.70" r="1.50" fill="#000"/>
<circle cx="103.00" cy="440.98" r="1.50" fill="#000"/>
<circle cx="137.60" cy="433.70" r="1.50" fill="#000"/>
<circle cx="154.90" cy="423.70" r="1.50" fill="#000"/>
<circle cx="172.20" cy="414.60" r="1.50" fill="#000"/>
<circle cx="189.50" cy="383.68" r="1.50" fill="#000"/>
<circle cx="206.80" cy="336.57" r="1.50" fill="#000"/>
<circle cx="33.80" cy="449.16" r="1.23" fill="#fff" stroke="#000" stroke-width="0.8"/>
<circle cx="51.10" cy="446.43" r="1.23" fill="#fff" stroke="#000" stroke-width="0.8"/>
<circle cx="68.40" cy="444.61" r="1.23" fill="#fff" stroke="#000" stroke-width="0.8"/>
<circle cx="85.70" cy="443.70" r="1.23" fill="#fff" stroke="#000" stroke-width="0.8"/>
<circle cx="103.00" cy="443.34" r="1.23" fill="#fff" stroke="#000" stroke-width="0.8"/>
<circle cx="137.60" cy="443.70" r="1.23" fill="#fff" stroke="#000" stroke-width="0.8"/>
<circle cx="154.90" cy="447.34" r="1.23" fill="#fff" stroke="#000" stroke-width="0.8"/>
<circle cx="172.20" cy="450.07" r="1.23" fill="#fff" stroke="#000" stroke-width="0.8"/>
<circle cx="189.50" cy="450.98" r="1.23" fill="#fff" stroke="#000" stroke-width="0.8"/>
<circle cx="206.80" cy="450.98" r="1.23" fill="#fff" stroke="#000" stroke-width="0.8"/>
<path d="M33.80,447.69 L35.28,450.39 L32.32,450.39Z" fill="#fff" stroke="#000" stroke-width="0.8"/>
<path d="M51.10,445.87 L52.58,448.57 L49.62,448.57Z" fill="#fff" stroke="#000" stroke-width="0.8"/>
<path d="M68.40,444.96 L69.88,447.66 L66.92,447.66Z" fill="#fff" stroke="#000" stroke-width="0.8"/>
<path d="M85.70,444.96 L87.18,447.66 L84.22,447.66Z" fill="#fff" stroke="#000" stroke-width="0.8"/>
<path d="M103.00,444.96 L104.48,447.66 L101.52,447.66Z" fill="#fff" stroke="#000" stroke-width="0.8"/>
<path d="M137.60,445.87 L139.08,448.57 L136.12,448.57Z" fill="#fff" stroke="#000" stroke-width="0.8"/>
<path d="M154.90,447.69 L156.38,450.39 L153.42,450.39Z" fill="#fff" stroke="#000" stroke-width="0.8"/>
<path d="M172.20,448.60 L173.68,451.30 L170.72,451.30Z" fill="#fff" stroke="#000" stroke-width="0.8"/>
<path d="M189.50,449.50 L190.98,452.21 L188.02,452.21Z" fill="#fff" stroke="#000" stroke-width="0.8"/>
<path d="M206.80,449.87 L208.28,452.57 L205.32,452.57Z" fill="#fff" stroke="#000" stroke-width="0.8"/>
<path d="M33.80,447.62 L35.34,449.16 L33.80,450.70 L32.26,449.16Z" fill="#fff" stroke="#000" stroke-width="0.8"/>
<path d="M51.10,446.71 L52.64,448.25 L51.10,449.79 L49.56,448.25Z" fill="#fff" stroke="#000" stroke-width="0.8"/>
<path d="M68.40,446.71 L69.94,448.25 L68.40,449.79 L66.86,448.25Z" fill="#fff" stroke="#000" stroke-width="0.8"/>
<path d="M85.70,446.71 L87.24,448.25 L85.70,449.79 L84.16,448.25Z" fill="#fff" stroke="#000" stroke-width="0.8"/>
<path d="M103.00,446.71 L104.54,448.25 L103.00,449.79 L101.46,448.25Z" fill="#fff" stroke="#000" stroke-width="0.8"/>
<path d="M137.60,447.62 L139.14,449.16 L137.60,450.70 L136.06,449.16Z" fill="#fff" stroke="#000" stroke-width="0.8"/>
<path d="M154.90,448.53 L156.44,450.07 L154.90,451.61 L153.36,450.07Z" fill="#fff" stroke="#000" stroke-width="0.8"/>
<path d="M172.20,449.44 L173.74,450.98 L172.20,452.52 L170.66,450.98Z" fill="#fff" stroke="#000" stroke-width="0.8"/>
<path d="M189.50,449.44 L191.04,450.98 L189.50,452.52 L187.96,450.98Z" fill="#fff" stroke="#000" stroke-width="0.8"/>
<path d="M206.80,449.81 L208.34,451.34 L206.80,452.88 L205.26,451.34Z" fill="#fff" stroke="#000" stroke-width="0.8"/>
<path d="M31.85,449.16 L35.75,449.16 M33.80,447.21 L33.80,451.11" stroke="#000" stroke-width="1.3" fill="none"/>
<path d="M49.15,449.16 L53.05,449.16 M51.10,447.21 L51.10,451.11" stroke="#000" stroke-width="1.3" fill="none"/>
<path d="M66.45,450.07 L70.35,450.07 M68.40,448.12 L68.40,452.02" stroke="#000" stroke-width="1.3" fill="none"/>
<path d="M83.75,450.07 L87.65,450.07 M85.70,448.12 L85.70,452.02" stroke="#000" stroke-width="1.3" fill="none"/>
<path d="M101.05,450.62 L104.95,450.62 M103.00,448.67 L103.00,452.57" stroke="#000" stroke-width="1.3" fill="none"/>
<path d="M135.65,450.98 L139.55,450.98 M137.60,449.03 L137.60,452.93" stroke="#000" stroke-width="1.3" fill="none"/>
<path d="M152.95,450.98 L156.85,450.98 M154.90,449.03 L154.90,452.93" stroke="#000" stroke-width="1.3" fill="none"/>
<path d="M170.25,451.34 L174.15,451.34 M172.20,449.39 L172.20,453.29" stroke="#000" stroke-width="1.3" fill="none"/>
<path d="M187.55,451.34 L191.45,451.34 M189.50,449.39 L189.50,453.29" stroke="#000" stroke-width="1.3" fill="none"/>
<path d="M204.85,451.89 L208.75,451.89 M206.80,449.94 L206.80,453.84" stroke="#000" stroke-width="1.3" fill="none"/>
<rect x="32.30" y="447.66" width="3.00" height="3.00" fill="#000"/>
<rect x="49.60" y="448.57" width="3.00" height="3.00" fill="#000"/>
<rect x="66.90" y="449.12" width="3.00" height="3.00" fill="#000"/>
<rect x="84.20" y="449.48" width="3.00" height="3.00" fill="#000"/>
<rect x="101.50" y="449.48" width="3.00" height="3.00" fill="#000"/>
<rect x="136.10" y="449.84" width="3.00" height="3.00" fill="#000"/>
<rect x="153.40" y="450.39" width="3.00" height="3.00" fill="#000"/>
<rect x="170.70" y="450.39" width="3.00" height="3.00" fill="#000"/>
<rect x="188.00" y="450.39" width="3.00" height="3.00" fill="#000"/>
<rect x="205.30" y="450.75" width="3.00" height="3.00" fill="#000"/>
<circle cx="33.80" cy="449.16" r="1.23" fill="#fff" stroke="#000" stroke-width="0.8"/>
<circle cx="51.10" cy="450.07" r="1.23" fill="#fff" stroke="#000" stroke-width="0.8"/>
<circle cx="68.40" cy="450.98" r="1.23" fill="#fff" stroke="#000" stroke-width="0.8"/>
<circle cx="85.70" cy="451.34" r="1.23" fill="#fff" stroke="#000" stroke-width="0.8"/>
<circle cx="103.00" cy="451.89" r="1.23" fill="#fff" stroke="#000" stroke-width="0.8"/>
<circle cx="137.60" cy="451.89" r="1.23" fill="#fff" stroke="#000" stroke-width="0.8"/>
<circle cx="154.90" cy="452.25" r="1.23" fill="#fff" stroke="#000" stroke-width="0.8"/>
<circle cx="172.20" cy="452.25" r="1.23" fill="#fff" stroke="#000" stroke-width="0.8"/>
<circle cx="189.50" cy="452.25" r="1.23" fill="#fff" stroke="#000" stroke-width="0.8"/>
<circle cx="206.80" cy="452.44" r="1.23" fill="#fff" stroke="#000" stroke-width="0.8"/>
<rect x="55" y="290.3" width="81.30000000000001" height="80.69999999999999" fill="#fff" stroke="#111" stroke-width="1.1"/>
<path d="M64.5,297.5 L73.8,297.5" stroke="#000" stroke-width="1.1"/>
<rect x="67.55" y="295.90" width="3.20" height="3.20" fill="#000"/>
<text x="78.00" y="299.40" font-size="6.0" text-anchor="start" font-weight="normal" stroke="#000" stroke-width="0.24">W2</text>
<path d="M64.5,310.5 L73.8,310.5" stroke="#000" stroke-width="1.1"/>
<circle cx="69.15" cy="310.50" r="1.60" fill="#000"/>
<text x="78.00" y="312.40" font-size="6.0" text-anchor="start" font-weight="normal" stroke="#000" stroke-width="0.24">W3</text>
<path d="M64.5,323.7 L73.8,323.7" stroke="#000" stroke-width="1.1"/>
<path d="M69.15,321.94 L70.91,325.14 L67.39,325.14Z" fill="#000"/>
<text x="78.00" y="325.60" font-size="6.0" text-anchor="start" font-weight="normal" stroke="#000" stroke-width="0.24">W4</text>
<path d="M64.5,337 L73.8,337" stroke="#000" stroke-width="1.1"/>
<path d="M69.15,335.00 L71.15,337.00 L69.15,339.00 L67.15,337.00Z" fill="#000"/>
<text x="78.00" y="338.90" font-size="6.0" text-anchor="start" font-weight="normal" stroke="#000" stroke-width="0.24">W10</text>
<path d="M64.5,351 L73.8,351" stroke="#000" stroke-width="1.1"/>
<circle cx="69.15" cy="351.00" r="1.60" fill="#000"/>
<text x="78.00" y="352.90" font-size="6.0" text-anchor="start" font-weight="normal" stroke="#000" stroke-width="0.24">W12</text>
<path d="M64.5,364.2 L73.8,364.2" stroke="#000" stroke-width="1.1"/>
<circle cx="69.15" cy="364.20" r="1.31" fill="#fff" stroke="#000" stroke-width="0.8"/>
<text x="78.00" y="366.10" font-size="6.0" text-anchor="start" font-weight="normal" stroke="#000" stroke-width="0.24">V4</text>
<path d="M105,297.5 L114.5,297.5" stroke="#000" stroke-width="1.1"/>
<path d="M109.75,295.93 L111.32,298.81 L108.18,298.81Z" fill="#fff" stroke="#000" stroke-width="0.8"/>
<text x="118.80" y="299.40" font-size="6.0" text-anchor="start" font-weight="normal" stroke="#000" stroke-width="0.24">V5</text>
<path d="M105,310.5 L114.5,310.5" stroke="#000" stroke-width="1.1"/>
<path d="M109.75,308.86 L111.39,310.50 L109.75,312.14 L108.11,310.50Z" fill="#fff" stroke="#000" stroke-width="0.8"/>
<text x="118.80" y="312.40" font-size="6.0" text-anchor="start" font-weight="normal" stroke="#000" stroke-width="0.24">V6</text>
<path d="M105,323.7 L114.5,323.7" stroke="#000" stroke-width="1.1"/>
<path d="M107.67,323.70 L111.83,323.70 M109.75,321.62 L109.75,325.78" stroke="#000" stroke-width="1.3" fill="none"/>
<text x="118.80" y="325.60" font-size="6.0" text-anchor="start" font-weight="normal" stroke="#000" stroke-width="0.24">Z5</text>
<path d="M105,337 L114.5,337" stroke="#000" stroke-width="1.1"/>
<rect x="108.15" y="335.40" width="3.20" height="3.20" fill="#000"/>
<text x="118.80" y="338.90" font-size="6.0" text-anchor="start" font-weight="normal" stroke="#000" stroke-width="0.24">Z6</text>
<path d="M105,351 L114.5,351" stroke="#000" stroke-width="1.1"/>
<circle cx="109.75" cy="351.00" r="1.31" fill="#fff" stroke="#000" stroke-width="0.8"/>
<text x="118.80" y="352.90" font-size="6.0" text-anchor="start" font-weight="normal" stroke="#000" stroke-width="0.24">Z7</text>
<text x="212.20" y="298.90" font-size="5.8" text-anchor="start" font-weight="normal" stroke="#000" stroke-width="0.24">W2</text>
<text x="212.20" y="334.10" font-size="5.8" text-anchor="start" font-weight="normal" stroke="#000" stroke-width="0.24">W12</text>
<text x="212.20" y="360.40" font-size="5.8" text-anchor="start" font-weight="normal" stroke="#000" stroke-width="0.24">W10</text>
<text x="213.00" y="417.90" font-size="5.8" text-anchor="start" font-weight="normal" stroke="#000" stroke-width="0.24">W4</text>
<text x="213.00" y="437.90" font-size="5.8" text-anchor="start" font-weight="normal" stroke="#000" stroke-width="0.24">W3</text>
<text x="178.50" y="449.10" font-size="5.8" text-anchor="start" font-weight="normal" textLength="29.2" lengthAdjust="spacingAndGlyphs" stroke="#000" stroke-width="0.24">V4, V5, V6</text>
<text x="211.80" y="450.80" font-size="5.8" text-anchor="start" font-weight="normal" textLength="26" lengthAdjust="spacingAndGlyphs" stroke="#000" stroke-width="0.24">Z5, Z6, Z7</text>
</g>
</svg>
</body></html>
